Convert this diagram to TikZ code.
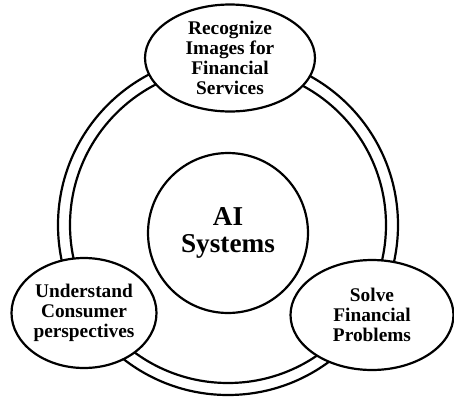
\documentclass[tikz,border=0pt]{standalone}
\usepackage{fontspec}
\setmainfont{Liberation Serif}
\usetikzlibrary{shapes.geometric}

\begin{document}
\begin{tikzpicture}[x = 0.02cm, y = -0.02cm, line width = 1.25pt,
    every node/.style = {align = center, inner sep = 0pt},
    topic/.style = {ellipse, draw, fill = white, font = \fontsize{11}{11.5}\selectfont\bfseries}]

            \useasboundingbox (0, 0) rectangle (454, 403);

            \coordinate (hub) at (228, 225);
            \draw (hub) circle (170);
            \draw (hub) circle (158);

            \node (ai) at (228, 233) [circle, draw, minimum size = 3.2cm, font = \fontsize{15.5}{15.5}\selectfont\bfseries] {AI\\Systems};

            \node (recognize) at (230, 58) [topic, minimum width = 3.4cm, minimum height = 2.14cm] {Recognize\\Images for\\Financial\\Services};
            \node (consumer) at (84, 313) [topic, minimum width = 2.9cm, minimum height = 2.2cm] {Understand\\Consumer\\perspectives};
            \node (solve) at (372, 315) [topic, minimum width = 3.26cm, minimum height = 2.2cm] {Solve\\Financial\\Problems};
        \end{tikzpicture}
\end{document}
